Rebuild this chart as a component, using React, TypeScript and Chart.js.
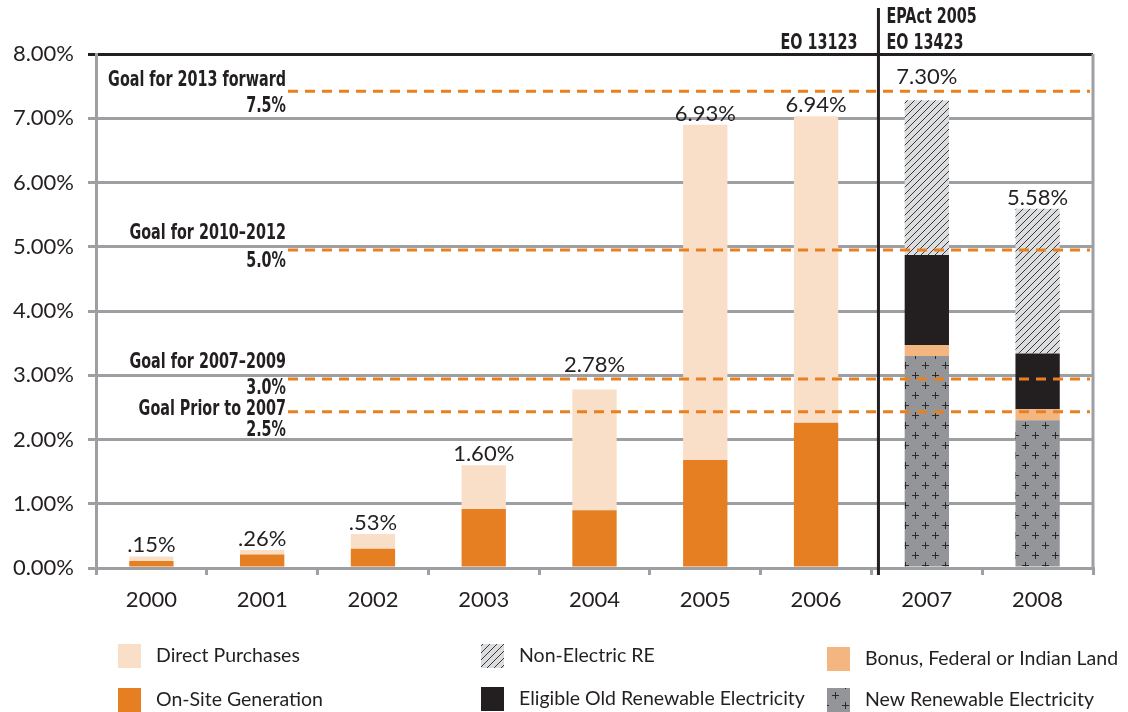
import React, { useEffect, useRef } from 'react';
import { Chart, registerables } from 'chart.js';

Chart.register(...registerables);

// ---------- data ----------
const years = ['2000', '2001', '2002', '2003', '2004', '2005', '2006', '2007', '2008'];
const onSiteGeneration = [0.11, 0.21, 0.3, 0.92, 0.9, 1.68, 2.26, null, null];
const directPurchases = [0.07, 0.07, 0.23, 0.68, 1.88, 5.22, 4.77, null, null];
const newRenewableElectricity = [null, null, null, null, null, null, null, 3.3, 2.3];
const bonusFederalIndianLand = [null, null, null, null, null, null, null, 0.17, 0.17];
const eligibleOldRenewable = [null, null, null, null, null, null, null, 1.4, 0.87];
const nonElectricRE = [null, null, null, null, null, null, null, 2.41, 2.25];
const totalLabels = ['.15%', '.26%', '.53%', '1.60%', '2.78%', '6.93%', '6.94%', '7.30%', '5.58%'];

const goalTitles = ['Goal for 2013 forward', 'Goal for 2010\u20132012', 'Goal for 2007\u20132009', 'Goal Prior to 2007'];
const goalValueLabels = ['7.5%', '5.0%', '3.0%', '2.5%'];
const goalLineValues = [7.42, 4.95, 2.94, 2.43];

const leftPolicyLabels = ['EO 13123'];
const rightPolicyLabels = ['EPAct 2005', 'EO 13423'];

// ---------- styles ----------
const TEXT = '#231f20';
const GRAY = '#9d9fa2';
const BLACK = '#231f20';
const ORANGE_DASH = '#e8801f';
const NARROW_BOLD = 'bold 21px "Liberation Sans Narrow", "Arial Narrow", "DejaVu Sans Condensed", sans-serif';
const CONDENSE = 0.76;
const BODY_FONT = 'Lato';

// goal label offsets relative to goal line (title centre, value centre)
const goalTitleOffsets = [-11, -16, -17, -2];
const goalValueOffsets = [15, 12, 9, 19];
const GOAL_LABEL_RIGHT = 286;

function makeHatch(): CanvasPattern | string {
  const c = document.createElement('canvas');
  c.width = 7;
  c.height = 7;
  const g = c.getContext('2d')!;
  g.fillStyle = '#dcdddf';
  g.fillRect(0, 0, 7, 7);
  g.strokeStyle = '#3a3a3c';
  g.lineWidth = 1;
  g.beginPath();
  g.moveTo(-1, 8);
  g.lineTo(8, -1);
  g.moveTo(-2, 2);
  g.lineTo(2, -2);
  g.moveTo(5, 9);
  g.lineTo(9, 5);
  g.stroke();
  return g.createPattern(c, 'repeat') || '#dcdddf';
}

function makePlus(): CanvasPattern | string {
  const c = document.createElement('canvas');
  c.width = 20;
  c.height = 20;
  const g = c.getContext('2d')!;
  g.fillStyle = '#939598';
  g.fillRect(0, 0, 20, 20);
  g.fillStyle = '#2a2a2c';
  const plus = (x: number, y: number) => {
    g.fillRect(x - 3, y, 7, 1);
    g.fillRect(x, y - 3, 1, 7);
  };
  plus(5, 5);
  plus(15, 15);
  return g.createPattern(c, 'repeat') || '#939598';
}

function condensedText(ctx: CanvasRenderingContext2D, text: string, x: number, y: number, align: CanvasTextAlign) {
  ctx.save();
  ctx.font = NARROW_BOLD;
  ctx.textAlign = align;
  ctx.textBaseline = 'middle';
  ctx.fillStyle = TEXT;
  ctx.translate(x, y);
  ctx.scale(CONDENSE, 1);
  ctx.fillText(text, 0, 0);
  ctx.restore();
}

export default function App() {
  const ref = useRef<HTMLCanvasElement>(null);

  useEffect(() => {
    const canvas = ref.current!;
    const hatch = makeHatch();
    const plusPat = makePlus();

    const colors = {
      direct: '#f9dfc7',
      onsite: '#e67e22',
      nonElec: hatch,
      old: BLACK,
      bonus: '#f3b681',
      newRE: plusPat,
    };

    const overlay = {
      id: 'overlay',
      beforeDatasetsDraw(chart: any) {
        const { ctx, chartArea } = chart;
        ctx.save();
        ctx.strokeStyle = GRAY;
        ctx.lineWidth = 3;
        ctx.beginPath();
        ctx.moveTo(chartArea.right, chartArea.top);
        ctx.lineTo(chartArea.right, chartArea.bottom);
        ctx.stroke();
        ctx.restore();
      },
      afterDatasetsDraw(chart: any) {
        const { ctx, chartArea } = chart;
        const xs = chart.scales.x;
        const ys = chart.scales.y;
        ctx.save();

        // goal lines
        const lineYs = goalLineValues.map((v) => ys.getPixelForValue(v));
        ctx.strokeStyle = ORANGE_DASH;
        ctx.lineWidth = 3;
        ctx.setLineDash([10, 7]);
        lineYs.forEach((y) => {
          ctx.beginPath();
          ctx.moveTo(GOAL_LABEL_RIGHT + 2, y);
          ctx.lineTo(chartArea.right - 3, y);
          ctx.stroke();
        });
        ctx.setLineDash([]);

        // goal labels
        lineYs.forEach((y, i) => {
          condensedText(ctx, goalTitles[i], GOAL_LABEL_RIGHT, y + goalTitleOffsets[i], 'right');
          condensedText(ctx, goalValueLabels[i], GOAL_LABEL_RIGHT, y + goalValueOffsets[i], 'right');
        });

        // total labels
        ctx.fillStyle = TEXT;
        ctx.font = `22px ${BODY_FONT}`;
        ctx.textAlign = 'center';
        ctx.textBaseline = 'alphabetic';
        const series = [onSiteGeneration, directPurchases, newRenewableElectricity, bonusFederalIndianLand, eligibleOldRenewable, nonElectricRE];
        years.forEach((_, i) => {
          const total = series.reduce((s, arr) => s + (arr[i] || 0), 0);
          const top = ys.getPixelForValue(total);
          let bottom = top - 4;
          lineYs.forEach((ly) => {
            if (ly > bottom - 17 && ly < bottom + 3) bottom = Math.min(bottom, ly - 7);
          });
          ctx.fillText(totalLabels[i], xs.getPixelForValue(i), bottom);
        });
        ctx.restore();
      },
      afterDraw(chart: any) {
        const { ctx, chartArea } = chart;
        const xs = chart.scales.x;
        ctx.save();
        // divider
        const dx = (xs.getPixelForValue(6) + xs.getPixelForValue(7)) / 2 + 7;
        ctx.strokeStyle = BLACK;
        ctx.lineWidth = 3;
        ctx.beginPath();
        ctx.moveTo(dx, 8);
        ctx.lineTo(dx, chartArea.bottom + 7);
        ctx.stroke();

        condensedText(ctx, leftPolicyLabels[0], dx - 21, 44, 'right');
        condensedText(ctx, rightPolicyLabels[0], dx + 8, 18, 'left');
        condensedText(ctx, rightPolicyLabels[1], dx + 8, 44, 'left');

        // legend
        const ds = chart.data.datasets;
        const byLabel = (l: string) => ds.find((d: any) => d.label === l);
        const legendItems = [
          { ds: byLabel('Direct Purchases'), x: 118, y: 656 },
          { ds: byLabel('On-Site Generation'), x: 118, y: 700 },
          { ds: byLabel('Non-Electric RE'), x: 481, y: 656 },
          { ds: byLabel('Eligible Old Renewable Electricity'), x: 481, y: 699 },
          { ds: byLabel('Bonus, Federal or Indian Land'), x: 827, y: 659 },
          { ds: byLabel('New Renewable Electricity'), x: 827, y: 700 },
        ];
        ctx.font = `19.5px ${BODY_FONT}`;
        ctx.textAlign = 'left';
        ctx.textBaseline = 'middle';
        legendItems.forEach((it) => {
          ctx.fillStyle = it.ds.backgroundColor;
          ctx.fillRect(it.x, it.y - 12, 23, 24);
          ctx.fillStyle = TEXT;
          ctx.fillText(it.ds.label, it.x + 38, it.y);
        });
        ctx.restore();
      },
    };

    const mk = (label: string, data: (number | null)[], bg: any) => ({
      label,
      data,
      backgroundColor: bg,
      borderWidth: 0,
      stack: 'a',
      barPercentage: 0.4,
      categoryPercentage: 1,
    });

    const chart = new Chart(canvas, {
      type: 'bar',
      data: {
        labels: years,
        datasets: [
          mk('On-Site Generation', onSiteGeneration, colors.onsite),
          mk('Direct Purchases', directPurchases, colors.direct),
          mk('New Renewable Electricity', newRenewableElectricity, colors.newRE),
          mk('Bonus, Federal or Indian Land', bonusFederalIndianLand, colors.bonus),
          mk('Eligible Old Renewable Electricity', eligibleOldRenewable, colors.old),
          mk('Non-Electric RE', nonElectricRE, colors.nonElec),
        ] as any,
      },
      options: {
        responsive: false,
        animation: false,
        devicePixelRatio: 1,
        layout: { padding: { top: 54, right: 35, left: 0, bottom: 0 } },
        font: { family: BODY_FONT },
        plugins: { legend: { display: false }, tooltip: { enabled: false } },
        scales: {
          x: {
            stacked: true,
            offset: true,
            grid: { offset: true, drawOnChartArea: false, tickLength: 7, color: GRAY, lineWidth: 3 },
            border: { color: GRAY, width: 3 },
            ticks: { font: { size: 22, family: BODY_FONT }, color: TEXT, padding: 12 },
            afterFit: (s: any) => {
              s.height = 144;
            },
          },
          y: {
            stacked: true,
            min: 0,
            max: 8,
            ticks: {
              stepSize: 1,
              callback: (v: any) => Number(v).toFixed(2) + '%',
              font: { size: 22, family: BODY_FONT },
              color: TEXT,
              padding: 14,
            },
            grid: {
              color: (c: any) => (c.tick && c.tick.value === 8 ? BLACK : GRAY),
              lineWidth: 3,
              tickLength: 8,
            },
            border: { color: GRAY, width: 3 },
            afterFit: (s: any) => {
              s.width = 96;
            },
          },
        },
      } as any,
      plugins: [overlay],
    });
    return () => chart.destroy();
  }, []);

  return (
    <div style={{ position: 'absolute', left: 0, top: 0, width: 1128, height: 712, background: '#fff' }}>
      <canvas ref={ref} width={1128} height={712} style={{ display: 'block' }} />
    </div>
  );
}
